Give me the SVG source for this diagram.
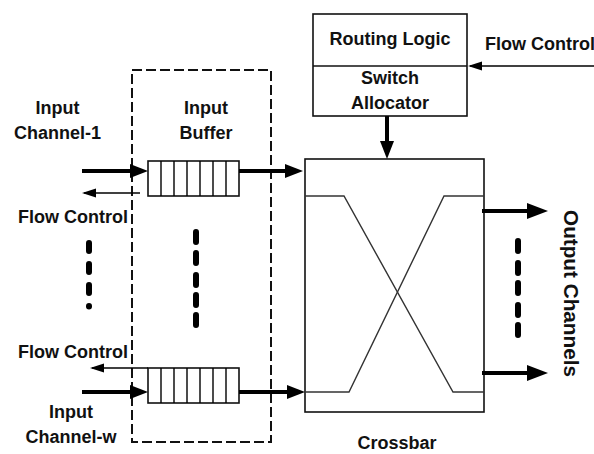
<svg xmlns="http://www.w3.org/2000/svg" width="594" height="454" viewBox="0 0 594 454">
<defs>
<style>
text{font-family:"Liberation Sans",Arial,sans-serif;font-weight:bold;font-size:18px;fill:#111}
.c{text-anchor:middle}
.box{fill:#fff;stroke:#111;stroke-width:1.6}
.thick{stroke:#000;stroke-width:4;fill:none}
.thin{stroke:#000;stroke-width:1.4;fill:none}
.dots{stroke:#000;stroke-width:6;stroke-linecap:round;fill:none}
.xl{stroke:#333;stroke-width:1.4;fill:none}
</style>
<marker id="ah" markerUnits="userSpaceOnUse" markerWidth="18" markerHeight="14" refX="10" refY="7" orient="auto"><path d="M0,0 L18,7 L0,14 z" fill="#000"/></marker>
<marker id="ahb" markerUnits="userSpaceOnUse" markerWidth="21" markerHeight="16" refX="11" refY="8" orient="auto"><path d="M0,0 L21,8 L0,16 z" fill="#000"/></marker>
<marker id="at" markerUnits="userSpaceOnUse" markerWidth="14" markerHeight="10" refX="12" refY="5" orient="auto"><path d="M0,0.5 L14,5 L0,9.5 z" fill="#000"/></marker>
</defs>

<g id="input-buffer-region">
<rect x="132" y="70" width="139" height="372" fill="none" stroke="#111" stroke-width="2" stroke-dasharray="10,4"/>
<text class="c" x="206" y="114">Input</text>
<text class="c" x="206" y="139">Buffer</text>
<path class="dots" d="M196 232 V242 M196 253 V263 M196 275 V285 M196 295 V305 M196 315 V325"/>
</g>

<g id="buffer-1">
<rect class="box" x="148" y="161" width="91" height="35"/>
<path class="thin" d="M161 161 V196 M174 161 V196 M187 161 V196 M200 161 V196 M213 161 V196 M226 161 V196"/>
</g>

<g id="buffer-w">
<rect class="box" x="148" y="368" width="91" height="35"/>
<path class="thin" d="M161 368 V403 M174 368 V403 M187 368 V403 M200 368 V403 M213 368 V403 M226 368 V403"/>
</g>

<g id="input-channel-1">
<text class="c" x="57.5" y="114">Input</text>
<text class="c" x="57.5" y="139">Channel-1</text>
<text x="18" y="223" textLength="110">Flow Control</text>
</g>

<g id="input-channel-w">
<text x="18" y="358" textLength="110">Flow Control</text>
<text class="c" x="71" y="418">Input</text>
<text class="c" x="71" y="443">Channel-w</text>
<path class="dots" d="M89 243 V251 M89 264 V272 M89 285 V293 M89 306 V306.5"/>
</g>

<g id="router">
<rect class="box" x="313" y="14" width="154" height="102"/>
<line x1="313" y1="66" x2="467" y2="66" stroke="#111" stroke-width="1.6"/>
<text class="c" x="390" y="45">Routing Logic</text>
<text class="c" x="390" y="84">Switch</text>
<text class="c" x="390" y="109">Allocator</text>
<text x="485" y="50">Flow Control</text>
</g>

<g id="crossbar">
<rect class="box" x="305" y="159" width="179" height="253"/>
<path class="xl" d="M305 196 H344 L453 392 H484"/>
<path class="xl" d="M305 392 H349 L444 196 H484"/>
<text class="c" x="397" y="449">Crossbar</text>
</g>

<g id="output-channels">
<path class="dots" d="M518 241 V251 M518 263 V273 M518 283 V293 M518 305 V315 M518 325 V335"/>
<text transform="translate(564,210) rotate(90)" style="font-size:20px" textLength="167" lengthAdjust="spacingAndGlyphs">Output Channels</text>
</g>

<g id="connectors">
<line class="thick" x1="82" y1="171" x2="140" y2="171" marker-end="url(#ah)"/>
<line class="thin" x1="140" y1="193" x2="84" y2="193" marker-end="url(#at)"/>
<line class="thick" x1="239" y1="171" x2="295" y2="171" marker-end="url(#ah)"/>
<line class="thin" x1="148" y1="368" x2="92" y2="368" marker-end="url(#at)"/>
<line class="thick" x1="82" y1="392" x2="140" y2="392" marker-end="url(#ah)"/>
<line class="thick" x1="239" y1="392" x2="297" y2="392" marker-end="url(#ah)"/>
<line class="thick" x1="387" y1="116" x2="387" y2="151" marker-end="url(#ah)"/>
<line class="thin" x1="594" y1="66" x2="470" y2="66" marker-end="url(#at)"/>
<line class="thick" x1="482" y1="211" x2="538" y2="211" stroke-width="4.5" marker-end="url(#ahb)"/>
<line class="thick" x1="482" y1="373" x2="538" y2="373" stroke-width="4.5" marker-end="url(#ahb)"/>
</g>
</svg>
